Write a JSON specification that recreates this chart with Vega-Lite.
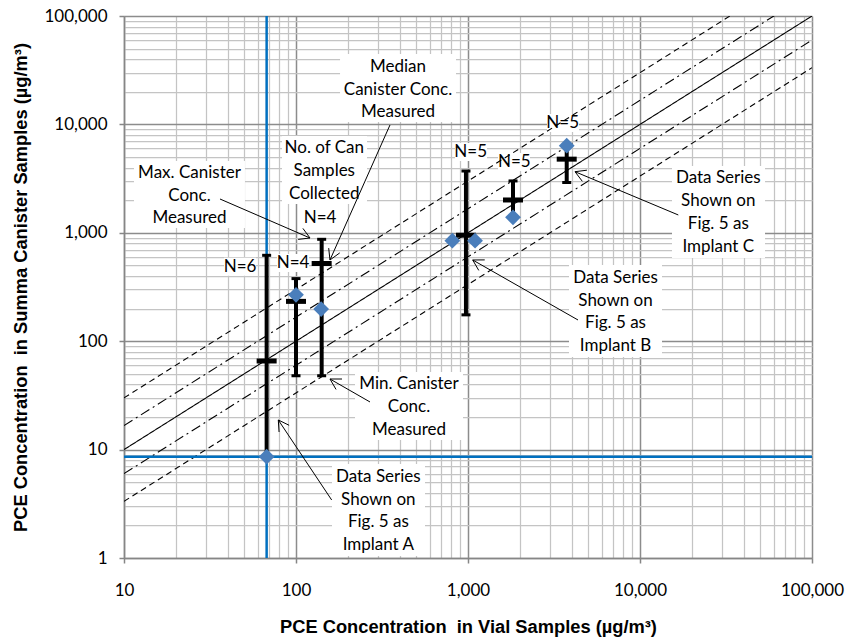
{
  "$schema": "https://vega.github.io/schema/vega-lite/v6.json",
  "width": 688,
  "height": 542,
  "autosize": {"type": "none"},
  "padding": {"left": 124, "top": 16, "right": 35, "bottom": 81},
  "background": "white",
  "config": {
    "view": {"stroke": null},
    "axis": {
      "labelFont": "Lato", "labelFontSize": 17, "labelColor": "#000000",
      "titleFont": "Liberation Sans", "titleFontSize": 18.3, "titleFontWeight": "bold", "titleColor": "#000000",
      "domainColor": "#868686", "domainWidth": 1.5, "tickSize": 5, "tickWidth": 1.5
    }
  },
  "datasets": {
    "bars": [
      {"x": 67.5, "y": 8.6, "y2": 620, "med": 65.7, "n": 6},
      {"x": 100, "y": 48, "y2": 378, "med": 233, "n": 4},
      {"x": 141, "y": 48, "y2": 871, "med": 521, "n": 4},
      {"x": 973, "y": 175, "y2": 3715, "med": 950, "n": 5},
      {"x": 1827, "y": 1390, "y2": 3010, "med": 2008, "n": 5},
      {"x": 3749, "y": 2910, "y2": 6365, "med": 4780, "n": 5}
    ],
    "vial": [
      {"x": 67.5, "y": 8.6}, {"x": 100, "y": 268}, {"x": 140, "y": 198},
      {"x": 811, "y": 846}, {"x": 1099, "y": 846}, {"x": 1827, "y": 1390}, {"x": 3749, "y": 6365}
    ],
    "ref": [
      {"id": "a", "style": "dash", "x": 10, "y": 30}, {"id": "a", "style": "dash", "x": 100000, "y": 300000},
      {"id": "b", "style": "dashdot", "x": 10, "y": 16.667}, {"id": "b", "style": "dashdot", "x": 100000, "y": 166667},
      {"id": "c", "style": "solid", "x": 10, "y": 10}, {"id": "c", "style": "solid", "x": 100000, "y": 100000},
      {"id": "d", "style": "dashdot", "x": 10, "y": 6}, {"id": "d", "style": "dashdot", "x": 100000, "y": 60000},
      {"id": "e", "style": "dash", "x": 10, "y": 3.333}, {"id": "e", "style": "dash", "x": 100000, "y": 33333}
    ],
    "vline": [{"x": 67.5, "y": 1, "y2": 100000}],
    "hline": [{"x": 10, "x2": 100000, "y": 8.6}],
    "nlab": [
      {"x": 47.25, "y": 486.8, "t": "N=6"},
      {"x": 96.06, "y": 526.5, "t": "N=4"},
      {"x": 137.9, "y": 1369, "t": "N=4"},
      {"x": 1037, "y": 5601, "t": "N=5"},
      {"x": 1859, "y": 4528, "t": "N=5"},
      {"x": 3553, "y": 10237, "t": "N=5"}
    ],
    "boxes": [
      {"x": 180.3, "x2": 851.5, "y": 10522, "y2": 44610},
      {"x": 82.9, "x2": 258.7, "y": 1843, "y2": 7816},
      {"x": 11.43, "x2": 50.5, "y": 1107, "y2": 4596},
      {"x": 220.3, "x2": 935.3, "y": 12.26, "y2": 51.96},
      {"x": 161.9, "x2": 562.3, "y": 1.043, "y2": 7.364},
      {"x": 3866, "x2": 13427, "y": 71.5, "y2": 504.6},
      {"x": 15349, "x2": 53316, "y": 585.6, "y2": 4132},
      {"x": 38.14, "x2": 58.55, "y": 402.1, "y2": 589.3},
      {"x": 77.55, "x2": 119.0, "y": 434.9, "y2": 637.5},
      {"x": 111.3, "x2": 170.9, "y": 1131, "y2": 1658},
      {"x": 840.4, "x2": 1290, "y": 4596, "y2": 6737},
      {"x": 1494, "x2": 2293, "y": 3716, "y2": 5447},
      {"x": 2880, "x2": 4420, "y": 8509, "y2": 12470}
    ],
    "notes": [
      {"x": 391.8, "y": 30567, "t": "Median|Canister Conc.|Measured"},
      {"x": 146.0, "y": 5401, "t": "No. of Can|Samples|Collected"},
      {"x": 24.03, "y": 3217, "t": "Max. Canister|Conc.|Measured"},
      {"x": 454, "y": 35.93, "t": "Min. Canister|Conc.|Measured"},
      {"x": 301.0, "y": 5.046, "t": "Data Series|Shown on|Fig. 5 as|Implant A"},
      {"x": 7205, "y": 345.7, "t": "Data Series|Shown on|Fig. 5 as|Implant B"},
      {"x": 28521, "y": 2856, "t": "Data Series|Shown on|Fig. 5 as|Implant C"}
    ],
    "arrows": [
      {"x": 351.9, "y": 9873, "x2": 157.6, "y2": 561.2},
      {"x": 157.6, "y": 561.2, "x2": 179.6, "y2": 652.5},
      {"x": 157.6, "y": 561.2, "x2": 154.9, "y2": 722.5},
      {"x": 36.15, "y": 2050, "x2": 120.6, "y2": 895.5},
      {"x": 120.6, "y": 895.5, "x2": 109.7, "y2": 1098},
      {"x": 120.6, "y": 895.5, "x2": 102.9, "y2": 869.3},
      {"x": 269.3, "y": 27.5, "x2": 157.6, "y2": 44.8},
      {"x": 157.6, "y": 44.8, "x2": 170.9, "y2": 35.9},
      {"x": 157.6, "y": 44.8, "x2": 185.1, "y2": 44.8},
      {"x": 161.2, "y": 3.43, "x2": 78.9, "y2": 18.76},
      {"x": 78.9, "y": 18.76, "x2": 79.7, "y2": 14.53},
      {"x": 78.9, "y": 18.76, "x2": 91.2, "y2": 16.76},
      {"x": 4361, "y": 156.9, "x2": 1065, "y2": 561.2},
      {"x": 1065, "y": 561.2, "x2": 1155, "y2": 449.9},
      {"x": 1065, "y": 561.2, "x2": 1251, "y2": 562.3},
      {"x": 16699, "y": 1460, "x2": 4189, "y2": 3661},
      {"x": 4189, "y": 3661, "x2": 4619, "y2": 2987},
      {"x": 4189, "y": 3661, "x2": 4912, "y2": 3780}
    ]
  },
  "encoding": {
    "x": {
      "field": "x", "type": "quantitative",
      "scale": {"type": "log", "domain": [10, 100000], "nice": false},
      "axis": {
        "title": "PCE Concentration\u00a0 in Vial Samples (µg/m³)",
        "values": [10,20,30,40,50,60,70,80,90,100,200,300,400,500,600,700,800,900,1000,2000,3000,4000,5000,6000,7000,8000,9000,10000,20000,30000,40000,50000,60000,70000,80000,90000,100000],
        "labelExpr": "indexof([10,100,1000,10000,100000], datum.value) >= 0 ? format(datum.value, ',') : ''",
        "labelOverlap": false, "labelFlush": false, "labelPadding": 19, "titlePadding": 20,
        "gridColor": {"condition": {"test": "indexof([10,100,1000,10000,100000], datum.value) >= 0", "value": "#8c8c8c"}, "value": "#c4c4c4"},
        "gridWidth": {"condition": {"test": "indexof([10,100,1000,10000,100000], datum.value) >= 0", "value": 1.5}, "value": 1.25},
        "tickColor": {"condition": {"test": "indexof([10,100,1000,10000,100000], datum.value) >= 0", "value": "#868686"}, "value": "transparent"}
      }
    },
    "y": {
      "field": "y", "type": "quantitative",
      "scale": {"type": "log", "domain": [1, 100000], "nice": false},
      "axis": {
        "title": "PCE Concentration\u00a0 in Summa Canister Samples (µg/m³)",
        "values": [1,2,3,4,5,6,7,8,9,10,20,30,40,50,60,70,80,90,100,200,300,400,500,600,700,800,900,1000,2000,3000,4000,5000,6000,7000,8000,9000,10000,20000,30000,40000,50000,60000,70000,80000,90000,100000],
        "labelExpr": "indexof([1,10,100,1000,10000,100000], datum.value) >= 0 ? format(datum.value, ',') : ''",
        "labelOverlap": false, "labelPadding": 12, "titlePadding": 13,
        "gridColor": {"condition": {"test": "indexof([1,10,100,1000,10000,100000], datum.value) >= 0", "value": "#8c8c8c"}, "value": "#c4c4c4"},
        "gridWidth": {"condition": {"test": "indexof([1,10,100,1000,10000,100000], datum.value) >= 0", "value": 1.5}, "value": 1.25},
        "tickColor": {"condition": {"test": "indexof([1,10,100,1000,10000,100000], datum.value) >= 0", "value": "#868686"}, "value": "transparent"}
      }
    }
  },
  "layer": [
    {
      "data": {"name": "boxes"},
      "mark": {"type": "rect", "color": "white", "opacity": 1},
      "encoding": {"x2": {"field": "x2"}, "y2": {"field": "y2"}}
    },
    {
      "data": {"name": "ref"},
      "mark": {"type": "line", "color": "black", "strokeWidth": 1.1, "clip": true},
      "encoding": {
        "detail": {"field": "id"},
        "strokeDash": {"field": "style", "type": "nominal", "legend": null,
          "scale": {"domain": ["dash", "dashdot", "solid"], "range": [[6, 4], [10, 4, 2, 4], [1, 0]]}}
      }
    },
    {
      "data": {"name": "vline"},
      "mark": {"type": "rule", "color": "#0070C0", "strokeWidth": 2.5},
      "encoding": {"y2": {"field": "y2"}}
    },
    {
      "data": {"name": "hline"},
      "mark": {"type": "rule", "color": "#0070C0", "strokeWidth": 2.5},
      "encoding": {"x2": {"field": "x2"}}
    },
    {
      "data": {"name": "bars"},
      "mark": {"type": "rule", "color": "black", "strokeWidth": 4},
      "encoding": {"y2": {"field": "y2"}}
    },
    {
      "data": {"name": "bars"},
      "mark": {"type": "tick", "orient": "horizontal", "color": "black", "size": 9, "thickness": 3, "opacity": 1}
    },
    {
      "data": {"name": "bars"},
      "mark": {"type": "tick", "orient": "horizontal", "color": "black", "size": 9, "thickness": 3, "opacity": 1},
      "encoding": {"y": {"field": "y2", "type": "quantitative", "scale": {"type": "log", "domain": [1, 100000], "nice": false}}}
    },
    {
      "data": {"name": "bars"},
      "mark": {"type": "tick", "orient": "horizontal", "color": "black", "size": 20, "thickness": 5, "opacity": 1},
      "encoding": {"y": {"field": "med", "type": "quantitative", "scale": {"type": "log", "domain": [1, 100000], "nice": false}}}
    },
    {
      "data": {"name": "vial"},
      "mark": {"type": "point", "shape": "diamond", "filled": true, "color": "#4A7EBB", "size": 250, "opacity": 1}
    },
    {
      "data": {"name": "nlab"},
      "mark": {"type": "text", "font": "Lato", "fontSize": 17, "color": "#000000", "align": "center", "baseline": "middle"},
      "encoding": {"text": {"field": "t"}}
    },
    {
      "data": {"name": "notes"},
      "mark": {"type": "text", "font": "Lato", "fontSize": 17, "color": "#000000", "align": "center", "baseline": "alphabetic", "lineBreak": "|", "lineHeight": 22.8},
      "encoding": {"text": {"field": "t"}}
    },
    {
      "data": {"name": "arrows"},
      "mark": {"type": "rule", "color": "black", "strokeWidth": 1},
      "encoding": {"x2": {"field": "x2"}, "y2": {"field": "y2"}}
    }
  ]
}
